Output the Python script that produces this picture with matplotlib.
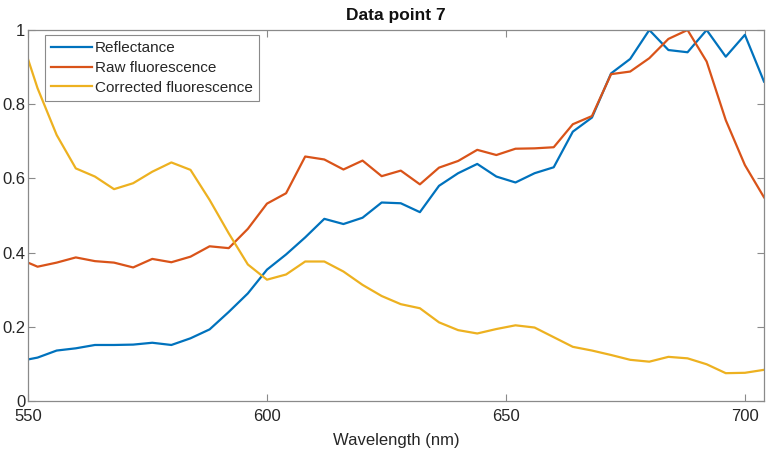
import numpy as np
from matplotlib import pyplot as plt

plt.rcParams['font.family'] = ['Liberation Sans', 'DejaVu Sans']

# wavelengths in nm (first point sits just left of the visible range)
wavelength = [548, 552, 556, 560, 564, 568, 572, 576, 580, 584,
              588, 592, 596, 600, 604, 608, 612, 616, 620, 624,
              628, 632, 636, 640, 644, 648, 652, 656, 660, 664,
              668, 672, 676, 680, 684, 688, 692, 696, 700, 704]

reflectance = [0.107, 0.117, 0.136, 0.142, 0.151, 0.151, 0.152, 0.157, 0.151, 0.169,
               0.193, 0.240, 0.290, 0.354, 0.395, 0.441, 0.491, 0.477, 0.494, 0.535,
               0.533, 0.509, 0.580, 0.614, 0.639, 0.605, 0.589, 0.614, 0.630, 0.726,
               0.764, 0.883, 0.922, 1.000, 0.946, 0.940, 1.000, 0.928, 0.987, 0.861]

raw_fluor = [0.384, 0.362, 0.373, 0.387, 0.377, 0.373, 0.360, 0.383, 0.374, 0.389,
             0.417, 0.412, 0.464, 0.532, 0.560, 0.659, 0.651, 0.624, 0.648, 0.606,
             0.621, 0.584, 0.629, 0.647, 0.677, 0.663, 0.680, 0.681, 0.684, 0.746,
             0.768, 0.881, 0.888, 0.924, 0.976, 1.000, 0.915, 0.757, 0.636, 0.549]

corr_fluor = [1.000, 0.843, 0.717, 0.627, 0.605, 0.571, 0.587, 0.618, 0.643, 0.623,
              0.542, 0.452, 0.368, 0.327, 0.341, 0.376, 0.376, 0.349, 0.313, 0.283,
              0.261, 0.250, 0.212, 0.191, 0.182, 0.194, 0.204, 0.198, 0.172, 0.146,
              0.136, 0.124, 0.111, 0.106, 0.119, 0.115, 0.099, 0.075, 0.076, 0.084]

series = [('Reflectance', reflectance, '#0072BD'),
          ('Raw fluorescence', raw_fluor, '#D95319'),
          ('Corrected fluorescence', corr_fluor, '#EDB120')]

text_col = '#262626'
axis_col = '#8a8a8a'

fig = plt.figure(figsize=(7.69, 4.59), dpi=100)
ax = fig.add_axes([28 / 769, 58 / 459, 736 / 769, 371 / 459])

for label, vals, col in series:
    ax.plot(wavelength, vals, color=col, linewidth=1.6, label=label)

ax.set_xlim(550, 704)
ax.set_ylim(0, 1)
ax.set_xticks([550, 600, 650, 700])
ax.set_yticks([0, 0.2, 0.4, 0.6, 0.8, 1])
ax.set_yticklabels(['0', '0.2', '0.4', '0.6', '0.8', '1'])

for sp in ax.spines.values():
    sp.set_color(axis_col)
    sp.set_linewidth(0.9)
ax.tick_params(direction='in', length=5, width=0.8, color=axis_col,
               top=True, right=True, labelsize=12, labelcolor=text_col)
ax.tick_params(axis='y', pad=2)
ax.tick_params(axis='x', pad=6)

ax.set_xlabel('Wavelength (nm)', fontsize=12, color=text_col, labelpad=6)
ax.set_title('Data point 7', fontsize=12.5, fontweight='bold', color='#111111', pad=7)

leg = ax.legend(loc='upper left', bbox_to_anchor=(17 / 736, 1 - 5 / 371),
                borderaxespad=0, fontsize=11, fancybox=False, framealpha=1,
                edgecolor=axis_col, handlelength=2.7, handletextpad=0.15,
                labelspacing=0.38, borderpad=0.4)
leg.get_frame().set_linewidth(0.8)
for t in leg.get_texts():
    t.set_color(text_col)

fig.savefig('out.png', dpi=100)
